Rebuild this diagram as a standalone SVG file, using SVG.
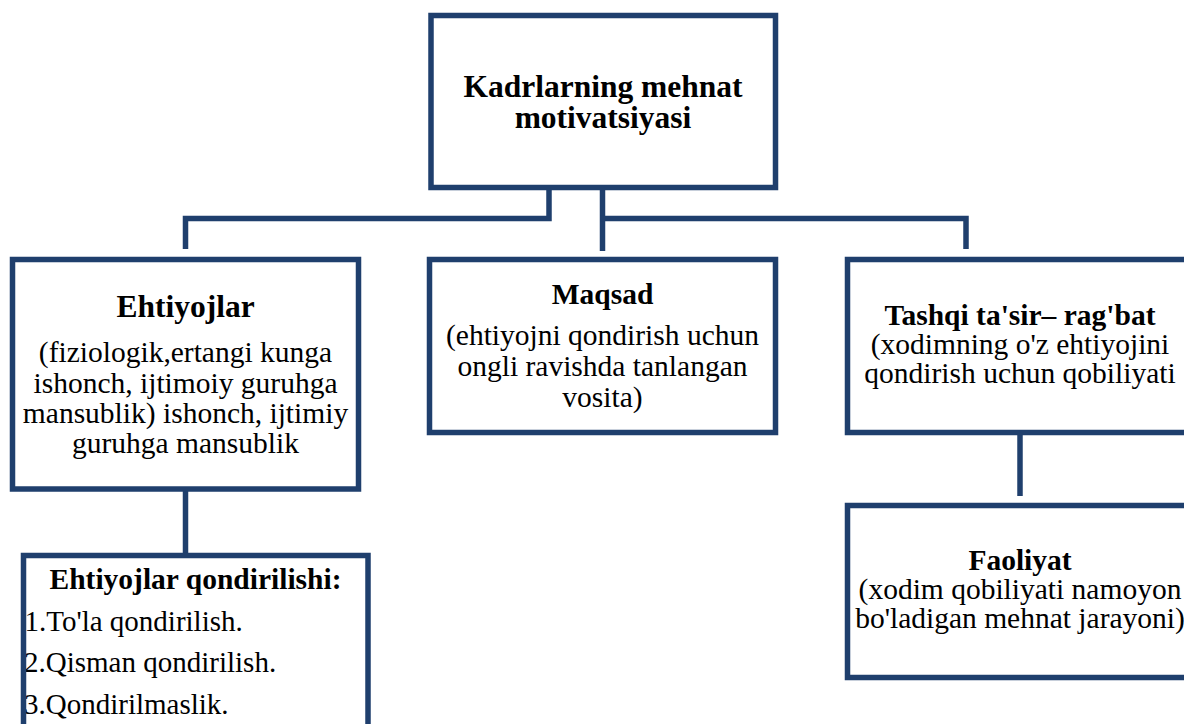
<svg xmlns="http://www.w3.org/2000/svg" width="1184" height="724" viewBox="0 0 1184 724">
  <style>
    .box { fill: #ffffff; stroke: #1f3f6d; stroke-width: 5.5; }
    .frame { fill: none; stroke: #1f3f6d; stroke-width: 5.5; }
    .link { fill: none; stroke: #1f3f6d; stroke-width: 5.5; stroke-linecap: butt; stroke-linejoin: miter; }
    text { font-family: "Liberation Serif", "Times New Roman", serif; fill: #000000; }
    .t { font-weight: bold; font-size: 29.5px; text-anchor: middle; }
    .tl { font-weight: bold; font-size: 31.5px; text-anchor: middle; }
    .b { font-size: 29.5px; text-anchor: middle; }
    .bl { font-size: 29px; }
  </style>
  <rect width="1184" height="724" fill="#ffffff"/>

  <!-- connectors -->
  <g id="connectors">
    <path class="link" d="M549,188 V218.5 H185.5 V249"/>
    <path class="link" d="M602.5,188 V251"/>
    <path class="link" d="M600,218.5 H966 V249"/>
    <path class="link" d="M185.5,489 V555"/>
    <path class="link" d="M1020,433 V496"/>
  </g>

  <!-- root -->
  <g id="node-motivation">
    <rect class="box" x="431" y="15.5" width="344.5" height="172"/>
    <text class="tl" x="603" y="97">Kadrlarning mehnat</text>
    <text class="tl" x="603" y="128">motivatsiyasi</text>
  </g>

  <g id="node-needs">
    <rect class="box" x="12.5" y="259.5" width="346" height="229.5"/>
    <text class="tl" x="185.5" y="317">Ehtiyojlar</text>
    <text class="b" x="185.5" y="362">(fiziologik,ertangi kunga</text>
    <text class="b" x="185.5" y="393">ishonch, ijtimoiy guruhga</text>
    <text class="b" x="185.5" y="423">mansublik) ishonch, ijtimiy</text>
    <text class="b" x="185.5" y="453">guruhga mansublik</text>
  </g>

  <g id="node-goal">
    <rect class="box" x="429.5" y="259.5" width="346" height="173"/>
    <text class="t" x="602.5" y="304">Maqsad</text>
    <text class="b" x="602.5" y="345">(ehtiyojni qondirish uchun</text>
    <text class="b" x="602.5" y="376">ongli ravishda tanlangan</text>
    <text class="b" x="602.5" y="407">vosita)</text>
  </g>

  <g id="node-incentive">
    <rect class="box" x="847.5" y="259.5" width="346" height="173"/>
    <text class="t" x="1020" y="325">Tashqi ta'sir– rag'bat</text>
    <text class="b" x="1020" y="354">(xodimning o'z ehtiyojini</text>
    <text class="b" x="1020" y="383">qondirish uchun qobiliyati</text>
  </g>

  <g id="node-activity">
    <rect class="box" x="847.5" y="505.5" width="346" height="172"/>
    <text class="t" x="1020" y="570">Faoliyat</text>
    <text class="b" x="1020" y="599">(xodim qobiliyati namoyon</text>
    <text class="b" x="1020" y="628">bo'ladigan mehnat jarayoni)</text>
  </g>

  <g id="node-satisfaction">
    <text class="t" x="195.5" y="589">Ehtiyojlar qondirilishi:</text>
    <text class="bl" x="24.5" y="631">1.To'la qondirilish.</text>
    <text class="bl" x="24" y="672">2.Qisman qondirilish.</text>
    <text class="bl" x="24" y="714">3.Qondirilmaslik.</text>
    <rect class="frame" x="23.5" y="555.5" width="344.5" height="190"/>
  </g>
</svg>
